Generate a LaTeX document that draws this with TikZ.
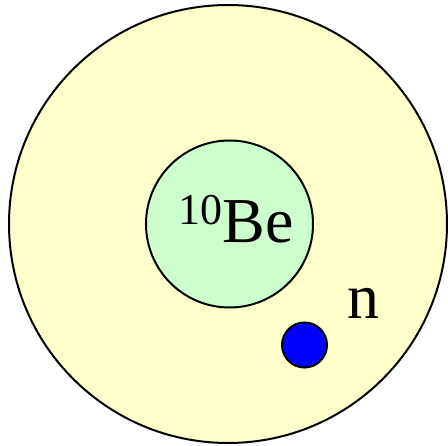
\documentclass[tikz,border=0pt]{standalone}
\usepackage{fontspec}
\setmainfont{Liberation Serif}
\definecolor{outerfill}{HTML}{FFFFCC}
\definecolor{innerfill}{HTML}{CCFFCC}
\definecolor{neutronblue}{HTML}{0000FF}
\tikzset{
  ball/.style={circle, draw=black, line width=2pt, inner sep=0pt},
  lbl/.style={inner sep=0pt, anchor=base, font=\fontsize{64}{70}\selectfont}
}
\begin{document}
\begin{tikzpicture}[x=1pt,y=-1pt]
\useasboundingbox (0,0) rectangle (448,446);
\node[ball, fill=outerfill, minimum size=438pt] (atom) at (228,224) {};
\node[ball, fill=innerfill, minimum size=167pt] (core) at (229.5,224) {};
\node[ball, fill=neutronblue, minimum size=45pt] (neutron) at (304.5,345) {};
\node[lbl] (be) at (236,243) {\raisebox{18pt}{\fontsize{44}{48}\selectfont 10}Be};
\node[lbl] (nlabel) at (363,319) {n};
\end{tikzpicture}
\end{document}
